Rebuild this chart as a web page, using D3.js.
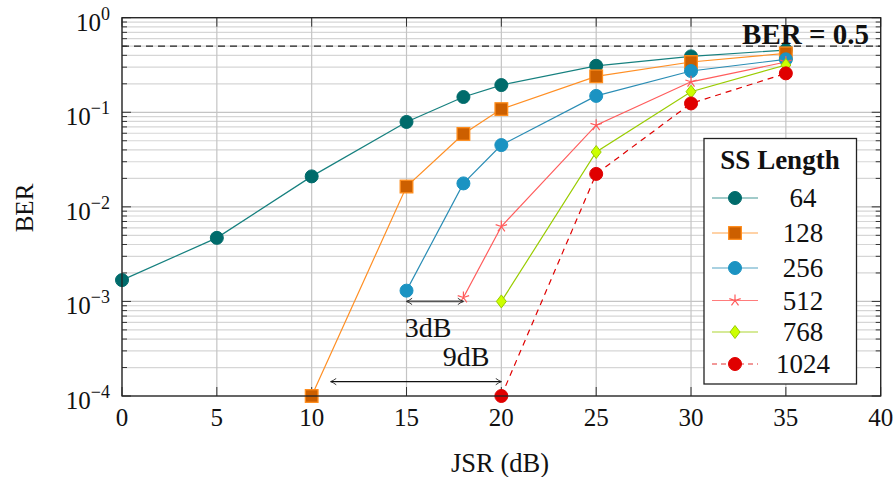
<!DOCTYPE html>
<html><head><meta charset="utf-8">
<script src="https://cdn.jsdelivr.net/npm/d3@7"></script>
<style>body{margin:0;background:#fff}svg{display:block}text{font-family:"Liberation Serif","DejaVu Serif",serif;fill:#111}</style>
</head><body><svg id="c" width="894" height="477"></svg>
<script>
const jsr = [0,5,10,15,18,20,25,30,35];
const xTicks = [0,5,10,15,20,25,30,35,40];
const yTickExps = [0,-1,-2,-3,-4];
const legendTitle = "SS Length";
const seriesNames = ["64","128","256","512","768","1024"];
const ber64   = [1.68e-3,4.7e-3,2.1e-2,0.079,0.145,0.194,0.31,0.39,0.455];
const ber128  = [null,null,1e-4,0.0164,0.059,0.108,0.24,0.34,0.42];
const ber256  = [null,null,null,1.3e-3,0.0177,0.045,0.149,0.273,0.363];
const ber512  = [null,null,null,null,1.1e-3,6.2e-3,0.073,0.21,0.34];
const ber768  = [null,null,null,null,null,1.0e-3,0.038,0.165,0.316];
const ber1024 = [null,null,null,null,null,1e-4,0.0223,0.124,0.258];
const berRef = 0.5;
const arrow3 = {x0:15,x1:18,y:1.0e-3,label:"3dB"};
const arrow9 = {x0:11,x1:20,y:1.42e-4,label:"9dB"};

const styles = [
 {line:"#16807f",fill:"#006b6b",stroke:"#006b6b",shape:"circle",dash:null},
 {line:"#ff8f24",fill:"#cc5f00",stroke:"#ff8c1a",shape:"square",dash:null},
 {line:"#2a8db5",fill:"#1b93c2",stroke:"#1b93c2",shape:"circle",dash:null},
 {line:"#ff5c5c",fill:"none",stroke:"#ff5c5c",shape:"star",dash:null},
 {line:"#99cc00",fill:"#ccff00",stroke:"#99cc00",shape:"diamond",dash:null},
 {line:"#e00000",fill:"#e00000",stroke:"#e00000",shape:"circle",dash:"6,5"}
];
const allSeries = [ber64,ber128,ber256,ber512,ber768,ber1024];

const svg = d3.select("#c");
const L=122, T=17.7, R=880.7, B=396;
const x = d3.scaleLinear().domain([0,40]).range([L,R]);
const y = d3.scaleLog().domain([1e-4,1]).range([B,T]);

// grid
const g = svg.append("g");
const minorVals=[];
for(let e=-4;e<0;e++) for(let m=2;m<=9;m++) minorVals.push(m*Math.pow(10,e));
g.selectAll(".mg").data(minorVals).join("line")
 .attr("x1",L).attr("x2",R).attr("y1",d=>y(d)).attr("y2",d=>y(d))
 .attr("stroke","#d6d6d6").attr("stroke-width",1.2);
g.selectAll(".yg").data(yTickExps).join("line")
 .attr("x1",L).attr("x2",R).attr("y1",d=>y(Math.pow(10,d))).attr("y2",d=>y(Math.pow(10,d)))
 .attr("stroke","#c4c4c4").attr("stroke-width",1.2);
g.selectAll(".xg").data(xTicks).join("line")
 .attr("x1",d=>x(d)).attr("x2",d=>x(d)).attr("y1",T).attr("y2",B)
 .attr("stroke","#c4c4c4").attr("stroke-width",1.2);

// ticks (inward, mirrored)
const tk = svg.append("g").attr("stroke","#333").attr("stroke-width",1);
tk.selectAll(".t1").data(minorVals).join("line").attr("x1",L).attr("x2",L+5).attr("y1",d=>y(d)).attr("y2",d=>y(d));
tk.selectAll(".t2").data(minorVals).join("line").attr("x1",R).attr("x2",R-5).attr("y1",d=>y(d)).attr("y2",d=>y(d));
tk.selectAll(".t3").data(yTickExps).join("line").attr("x1",L).attr("x2",L+9).attr("y1",d=>y(Math.pow(10,d))).attr("y2",d=>y(Math.pow(10,d)));
tk.selectAll(".t4").data(yTickExps).join("line").attr("x1",R).attr("x2",R-9).attr("y1",d=>y(Math.pow(10,d))).attr("y2",d=>y(Math.pow(10,d)));
tk.selectAll(".t5").data(xTicks).join("line").attr("x1",d=>x(d)).attr("x2",d=>x(d)).attr("y1",B).attr("y2",B-9);
tk.selectAll(".t6").data(xTicks).join("line").attr("x1",d=>x(d)).attr("x2",d=>x(d)).attr("y1",T).attr("y2",T+9);

// ref line
svg.append("line").attr("x1",L).attr("x2",R).attr("y1",y(berRef)).attr("y2",y(berRef))
 .attr("stroke","#222").attr("stroke-width",1.2).attr("stroke-dasharray","7,5");

// series
const line = d3.line().defined(d=>d[1]!=null).x(d=>x(d[0])).y(d=>y(d[1]));
function drawMarker(sel, st, cx, cy, scale){
  scale = scale||1;
  if(st.shape==="circle"){
    sel.append("circle").attr("cx",cx).attr("cy",cy).attr("r",6.5*scale).attr("fill",st.fill).attr("stroke",st.stroke).attr("stroke-width",1);
  } else if(st.shape==="square"){
    const s=6.3*scale;
    sel.append("rect").attr("x",cx-s).attr("y",cy-s).attr("width",2*s).attr("height",2*s).attr("fill",st.fill).attr("stroke",st.stroke).attr("stroke-width",1.3);
  } else if(st.shape==="diamond"){
    const w=5*scale,h=6.5*scale;
    sel.append("path").attr("d",`M${cx},${cy-h}L${cx+w},${cy}L${cx},${cy+h}L${cx-w},${cy}Z`).attr("fill",st.fill).attr("stroke",st.stroke).attr("stroke-width",1);
  } else {
    let p="";
    for(let k=0;k<5;k++){const a=-Math.PI/2+k*2*Math.PI/5; p+=`M${cx},${cy}L${cx+6*scale*Math.cos(a)},${cy+6*scale*Math.sin(a)}`;}
    sel.append("path").attr("d",p).attr("fill","none").attr("stroke",st.stroke).attr("stroke-width",1.2);
  }
}
allSeries.forEach((vals,i)=>{
  const st=styles[i];
  const pts = jsr.map((xv,j)=>[xv,vals[j]]).filter(d=>d[1]!=null);
  svg.append("path").datum(pts).attr("d",line).attr("fill","none").attr("stroke",st.line).attr("stroke-width",1.2)
    .attr("stroke-dasharray",st.dash);
});
allSeries.forEach((vals,i)=>{
  const st=styles[i];
  const gm=svg.append("g");
  jsr.forEach((xv,j)=>{ if(vals[j]!=null) drawMarker(gm,st,x(xv),y(vals[j])); });
});

// axis frame
svg.append("rect").attr("x",L).attr("y",T).attr("width",R-L).attr("height",B-T).attr("fill","none").attr("stroke","#222").attr("stroke-width",1.3);

// tick labels
svg.selectAll(".xl").data(xTicks).join("text").attr("x",d=>x(d)).attr("y",426).attr("text-anchor","middle").attr("font-size",25).text(d=>d);
const yl = svg.selectAll(".yl").data(yTickExps).join("text").attr("x",110).attr("y",d=>y(Math.pow(10,d))+13).attr("text-anchor","end").attr("font-size",25);
yl.append("tspan").text("10");
yl.append("tspan").attr("dy",-11).attr("font-size",18).text(d=>d===0?"0":"\u2212"+(-d));

// axis titles
svg.append("text").attr("x",500).attr("y",472).attr("text-anchor","middle").attr("font-size",26.5).text("JSR (dB)");
svg.append("text").attr("transform","translate(33,208) rotate(-90)").attr("text-anchor","middle").attr("font-size",25).text("BER");

// BER label
svg.append("text").attr("x",869).attr("y",44).attr("text-anchor","end").attr("font-size",29).attr("font-weight","bold").text("BER = 0.5");

// arrows
const defs=svg.append("defs");
defs.append("marker").attr("id","ah").attr("viewBox","0 0 10 10").attr("refX",9).attr("refY",5).attr("markerWidth",8).attr("markerHeight",8)
 .attr("orient","auto-start-reverse").attr("markerUnits","userSpaceOnUse")
 .append("path").attr("d","M2,1 Q6,4 9,5 Q6,6 2,9").attr("fill","none").attr("stroke","#222").attr("stroke-width",1.1);
[[arrow3,"#555",1.8,428,337],[arrow9,"#111",1.1,466,366]].forEach(([a,col,w,tx,ty])=>{
  svg.append("line").attr("x1",x(a.x0)).attr("x2",x(a.x1)).attr("y1",y(a.y)).attr("y2",y(a.y))
   .attr("stroke",col).attr("stroke-width",w).attr("marker-start","url(#ah)").attr("marker-end","url(#ah)");
  svg.append("text").attr("x",tx).attr("y",ty).attr("text-anchor","middle").attr("font-size",28).text(a.label);
});

// legend
const lg=svg.append("g");
lg.append("rect").attr("x",704).attr("y",138.5).attr("width",152.5).attr("height",245.5).attr("fill","#fff").attr("stroke","#222").attr("stroke-width",1.3);
lg.append("text").attr("x",780).attr("y",169).attr("text-anchor","middle").attr("font-size",27).attr("font-weight","bold").text(legendTitle);
const rowY=[198,233,268,300.5,332,364];
seriesNames.forEach((nm,i)=>{
  const st=styles[i], yy=rowY[i];
  lg.append("line").attr("x1",712).attr("x2",758).attr("y1",yy).attr("y2",yy).attr("stroke",st.line).attr("stroke-width",1.2).attr("stroke-dasharray",st.dash?"5,4":null).attr("opacity",0.8);
  drawMarker(lg,st,735,yy);
  lg.append("text").attr("x",803).attr("y",yy+9).attr("text-anchor","middle").attr("font-size",27).text(nm);
});
</script></body></html>
